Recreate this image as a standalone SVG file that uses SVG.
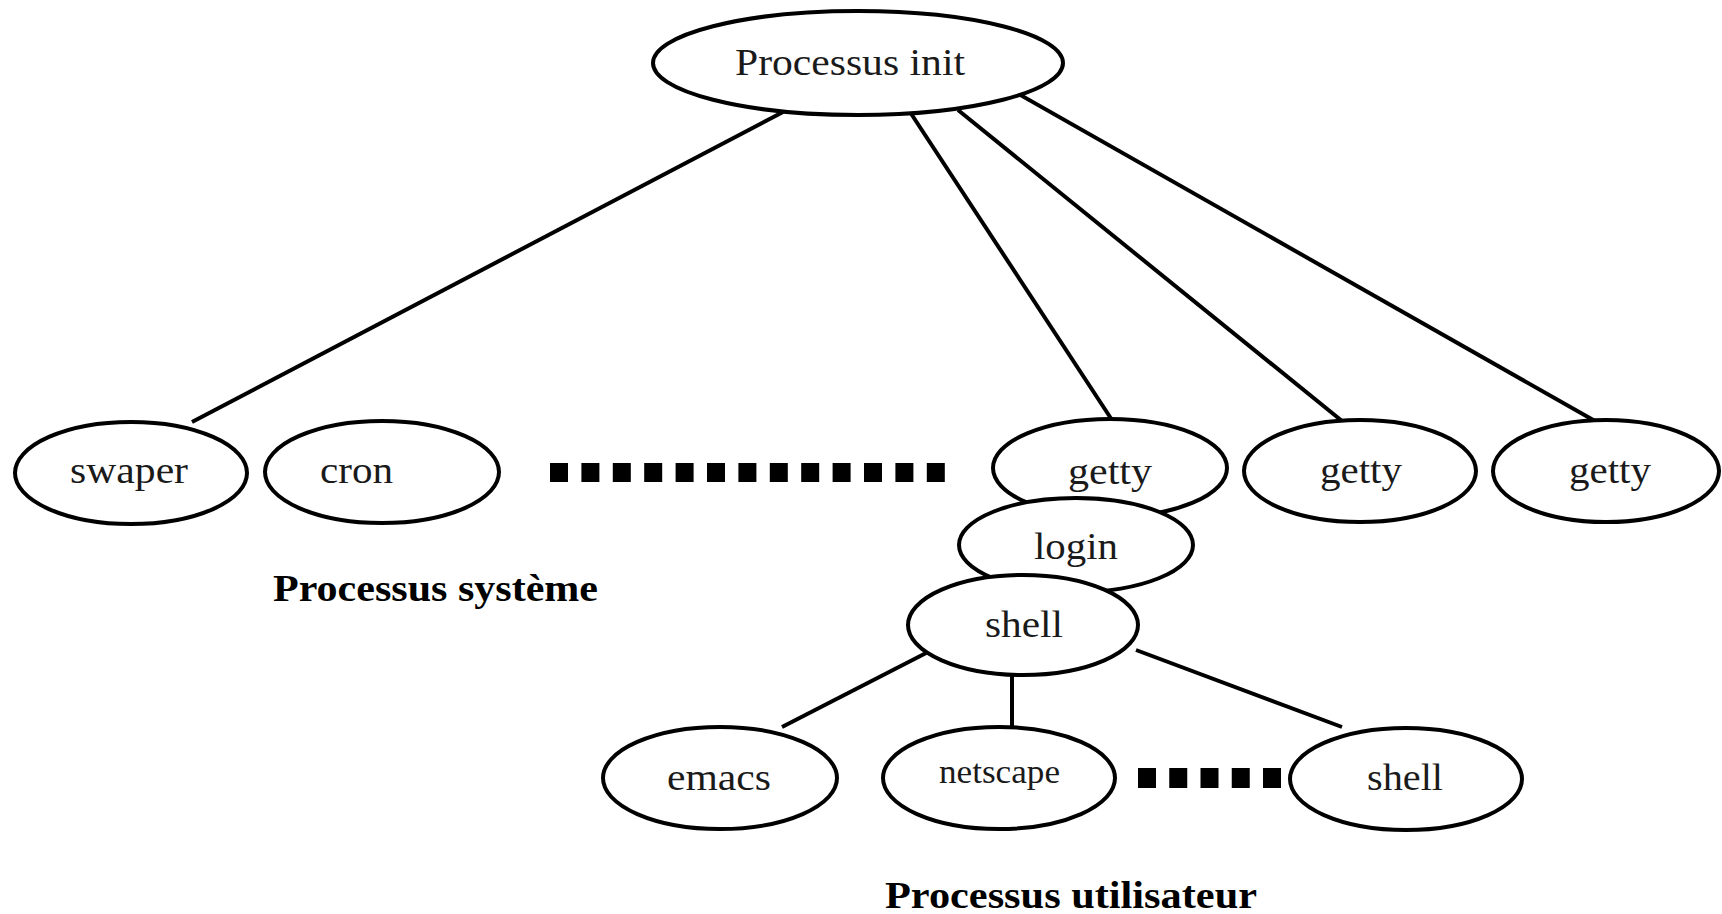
<svg xmlns="http://www.w3.org/2000/svg" width="1722" height="914" viewBox="0 0 1722 914">
  <style>
    .node { fill: #ffffff; stroke: #000000; stroke-width: 4; }
    .label { font-family: "Liberation Serif", "Times New Roman", serif; font-size: 38px; fill: #1a1a1a; text-anchor: start; }
    .small { font-size: 34px; }
    .title { font-family: "Liberation Serif", "Times New Roman", serif; font-size: 38px; font-weight: bold; fill: #000000; }
    .edge { stroke: #000000; stroke-width: 4; fill: none; }
    .dots { stroke: #000000; fill: none; }
  </style>
  <rect width="1722" height="914" fill="#ffffff"/>

  <!-- parent/child links -->
  <g id="connectors">
    <line class="edge" x1="783" y1="112" x2="192" y2="422"/>
    <line class="edge" x1="910" y1="112" x2="1112" y2="420"/>
    <line class="edge" x1="958" y1="110" x2="1342" y2="421"/>
    <line class="edge" x1="1008" y1="88" x2="1595" y2="421"/>
    <line class="edge" x1="930" y1="651" x2="782" y2="727"/>
    <line class="edge" x1="1012" y1="673" x2="1012" y2="727"/>
    <line class="edge" x1="1136" y1="650" x2="1342" y2="727"/>
  </g>

  <!-- ellipsis marks standing for further processes -->
  <g id="more-system">
    <line class="dots" x1="550" y1="472.5" x2="946" y2="472.5" stroke-width="19" stroke-dasharray="18 13.4"/>
  </g>
  <g id="more-user">
    <line class="dots" x1="1138" y1="778" x2="1282" y2="778" stroke-width="20" stroke-dasharray="18 13.25"/>
  </g>

  <g id="init">
    <ellipse class="node" cx="858" cy="63" rx="205" ry="52"/>
    <text class="label" x="735" y="75" textLength="230" lengthAdjust="spacingAndGlyphs">Processus init</text>
  </g>

  <g id="swaper">
    <ellipse class="node" cx="131" cy="473" rx="116" ry="51"/>
    <text class="label" x="70" y="483" textLength="118" lengthAdjust="spacingAndGlyphs">swaper</text>
  </g>

  <g id="cron">
    <ellipse class="node" cx="382" cy="472" rx="117" ry="51"/>
    <text class="label" x="320" y="483" textLength="73" lengthAdjust="spacingAndGlyphs">cron</text>
  </g>

  <g id="getty-1">
    <ellipse class="node" cx="1110" cy="468" rx="117" ry="49"/>
    <text class="label" x="1068" y="484" textLength="84" lengthAdjust="spacingAndGlyphs">getty</text>
  </g>

  <g id="getty-2">
    <ellipse class="node" cx="1360" cy="471" rx="116" ry="51"/>
    <text class="label" x="1320" y="483" textLength="82" lengthAdjust="spacingAndGlyphs">getty</text>
  </g>

  <g id="getty-3">
    <ellipse class="node" cx="1606" cy="471" rx="113" ry="51"/>
    <text class="label" x="1569" y="483" textLength="82" lengthAdjust="spacingAndGlyphs">getty</text>
  </g>

  <g id="login">
    <ellipse class="node" cx="1076" cy="545" rx="117" ry="47"/>
    <text class="label" x="1034" y="559" textLength="84" lengthAdjust="spacingAndGlyphs">login</text>
  </g>

  <g id="shell">
    <ellipse class="node" cx="1023" cy="625" rx="115" ry="50"/>
    <text class="label" x="985" y="637" textLength="78" lengthAdjust="spacingAndGlyphs">shell</text>
  </g>

  <g id="emacs">
    <ellipse class="node" cx="720" cy="778" rx="117" ry="51"/>
    <text class="label" x="667" y="790" textLength="104" lengthAdjust="spacingAndGlyphs">emacs</text>
  </g>

  <g id="netscape">
    <ellipse class="node" cx="999" cy="778" rx="116" ry="51"/>
    <text class="label small" x="939" y="783" textLength="121" lengthAdjust="spacingAndGlyphs">netscape</text>
  </g>

  <g id="shell-child">
    <ellipse class="node" cx="1406" cy="779" rx="116" ry="51"/>
    <text class="label" x="1367" y="790" textLength="76" lengthAdjust="spacingAndGlyphs">shell</text>
  </g>

  <g id="captions">
    <text class="title" x="273" y="601" textLength="325" lengthAdjust="spacingAndGlyphs">Processus système</text>
    <text class="title" x="885" y="908" textLength="372" lengthAdjust="spacingAndGlyphs">Processus utilisateur</text>
  </g>
</svg>
